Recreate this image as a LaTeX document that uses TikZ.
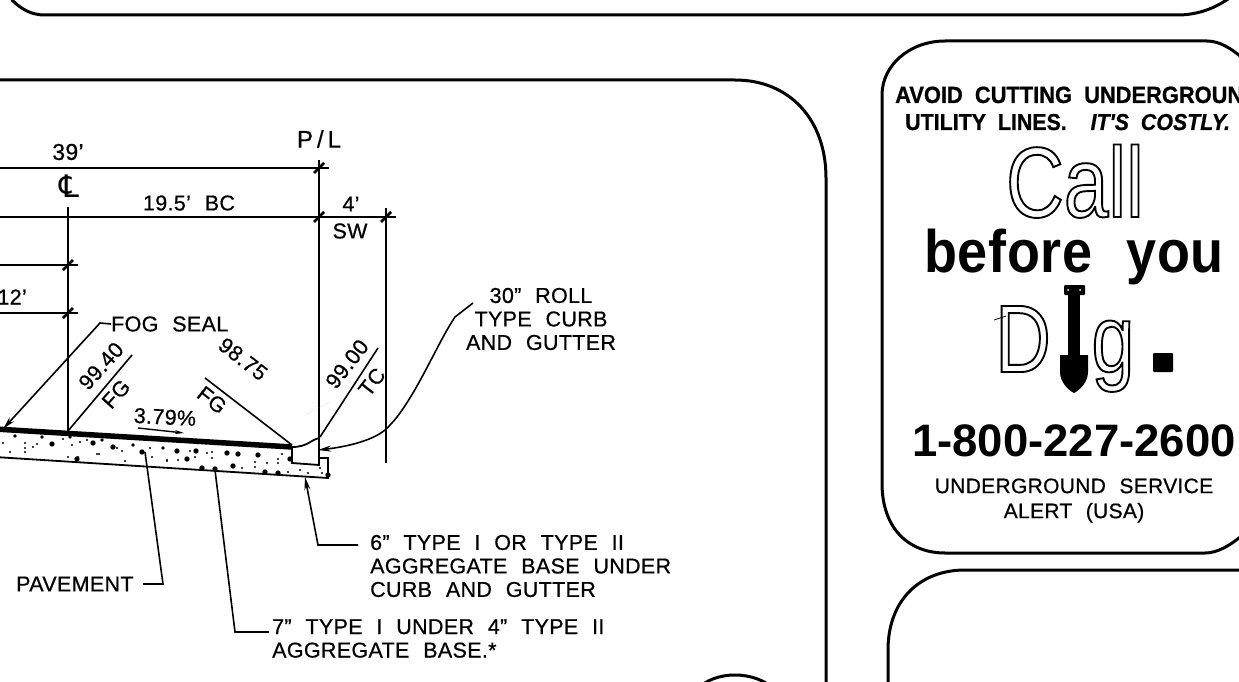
\documentclass[tikz,border=0pt]{standalone}
\usepackage{fontspec}
\setmainfont[LetterSpace=1.5,WordSpace=2.2,FakeBold=0.6]{Liberation Sans}
\newfontfamily\SymFont{DejaVu Sans}
\newfontfamily\PlainFont[WordSpace=2]{Liberation Sans}
\newfontfamily\AvoidFont[WordSpace=2,FakeStretch=0.93,FakeBold=0.8]{Liberation Sans}
\newfontfamily\CallFont[FakeStretch=0.8]{Liberation Sans}
\newfontfamily\BeforeFont[WordSpace=2.2,LetterSpace=1,FakeStretch=0.9]{Liberation Sans}
\usetikzlibrary{arrows.meta, calc, positioning}
\newcommand{\OutlineText}[1]{\special{pdf:code q 1 Tr 1.9 w}#1\special{pdf:code Q}}
\tikzstyle{label} = [inner sep=0pt, font=\fontsize{21.5}{23.5}\selectfont]
\tikzstyle{note} = [label, align=left, anchor=west]
\tikzstyle{frame} = [line width=3pt, line cap=round]
\tikzstyle{dimline} = [line width=1.5pt]
\tikzstyle{ticks} = [line width=2.5pt]
\tikzstyle{leader} = [line width=1.6pt]
\tikzstyle{arrow} = [line width=1.6pt,-{Stealth[length=13pt,width=6pt]}]
\tikzstyle{big} = [inner sep=0pt, anchor=base]

\begin{document}
\begin{tikzpicture}[x=1pt, y=-1pt]
	\useasboundingbox (0,0) rectangle (1239,682);
	\clip (0,0) rectangle (1239,682);
	% frames
	\draw[frame] (12,0) .. controls (22,10) and (32,15) .. (45,15) -- (1177,15) .. controls (1195,15) and (1212,10) .. (1228,-1);
	\draw[frame] (-5,80) -- (735,80) .. controls (790,80) and (826,120) .. (826,178) -- (826,690);
	\draw[frame] (697,690) .. controls (705,680) and (720,675) .. (735,675) .. controls (750,675) and (765,680) .. (775,690);
	\draw[frame] (1245,60) .. controls (1232,49) and (1220,41) .. (1207,41) -- (945,41) .. controls (910,41) and (882,65) .. (882,95) -- (882,483) .. controls (882,530) and (910,553) .. (945,553) -- (1205,553) .. controls (1217,553) and (1230,546) .. (1245,533);
	\draw[frame] (888,690) -- (888,650) .. controls (888,600) and (920,570) .. (965,570) -- (1245,570);

	% dimension lines
	\coordinate (PLTop) at (319,168);
	\coordinate (PLBase) at (319,217);
	\coordinate (SWEnd) at (386,217);
	\coordinate (LaneTop) at (68,265);
	\coordinate (LaneBase) at (68,313);
	\coordinate (CrownPt) at (68,431);
	\draw[dimline] (-5,168) -- (PLTop);
	\draw[dimline] (-5,217) -- (395,217);
	\draw[dimline] (-5,265) -- (78,265);
	\draw[dimline] (-5,313) -- (78,313);
	\draw[dimline] (319,160) -- (319,450);
	\draw[dimline] (386,208) -- (386,463);
	\draw[dimline] (68,207) -- (CrownPt);
	\draw[ticks] (LaneTop) -- (LaneBase);
	\draw[ticks] (PLTop) -- (PLBase);
	\foreach \p in {PLTop, PLBase, SWEnd, LaneTop, LaneBase} {
		\draw[ticks] (\p) ++(-5,5) -- ++(10,-10);
		\draw[leader] (\p) ++(-3,0) -- ++(13,0);
	}

	% labels above the section
	\node (ThirtyNine) [label, font=\fontsize{23}{23}\selectfont] at (68,152) {39'};
	\node (CenterMark) [label, font=\SymFont\fontsize{31}{31}\selectfont] at (69,186) {℄};
	\node (BackCurb) [label] at (189,203) {19.5' BC};
	\node (WalkWidth) [label] at (351,204) {4'};
	\node (WalkMark) [label] at (350,231) {SW};
	\node (LaneWidth) [label, anchor=east] at (27,297) {12'};
	\node (PropLine) [label, font=\fontsize{24}{24}\selectfont] at (319,139) {P\,/\,L};
	\node (FogSeal) [note] at (111,324) {FOG SEAL};
	\node (RollCurb) [label, align=center] at (541,319) {30" ROLL\\TYPE CURB\\AND GUTTER};
	\coordinate (FogBend) at (100,323);
	\coordinate (FogEnd) at (3,429);
	\draw[arrow] (FogSeal.west) -- (FogBend) -- (FogEnd);

	% grades
	\coordinate (GradeA) at (132,355);
	\coordinate (GradeB) at (205,378);
	\coordinate (GradeC) at (292,445);
	\coordinate (GradeD) at (320,437);
	\coordinate (GradeE) at (378,348);
	\draw[leader] (CrownPt) -- (GradeA);
	\draw[leader] (GradeB) -- (GradeC);
	\draw[leader] (GradeD) -- (GradeE);
	\node (GradeOne) [label, rotate=48] at (101,366) {99.40};
	\node (GradeOneFG) [label, rotate=48] at (116,394) {FG};
	\node (GradeTwo) [label, rotate=-38] at (243,359) {98.75};
	\node (GradeTwoFG) [label, rotate=-38] at (212,400) {FG};
	\node (GradeThree) [label, rotate=52] at (347,364) {99.00};
	\node (GradeThreeTC) [label, rotate=52] at (372,382) {TC};
	\node (Slope) [label, rotate=-3] at (165,417) {3.79\%};
	\coordinate (SlopeStart) at (138,428);
	\coordinate (SlopeEnd) at (184,433);
	\draw[line width=1.4pt,-{Stealth[length=9pt,width=4pt]}] (SlopeStart) -- (SlopeEnd);
	\draw[gray!50, densely dotted] (305,415) -- (330,402);

	% pavement, base and curb
	\draw[line width=5.5pt] (-5,429) -- (292,447);
	\draw[line width=1.8pt] (-5,457) -- (328,478) -- (328,458) -- (319,458);
	\draw[line width=1.8pt] (292,447) -- (292,463) -- (319,465) -- (319,438) .. controls (312,439) and (308,447) .. (292,447);
	\foreach \x/\y in {52/444,93/443,113/447,142/452,77/459,177/451,196/451,187/459,227/453,238/454,233/466,258/455,265/472,278/473,215/469,290/459,328/475,202/468}
		\fill (\x,\y) circle (2.7pt);
	\foreach \x/\y in {15/436,42/437,70/437,102/440,133/445,163/448}
		\fill (\x,\y) circle (1.9pt);
	\foreach \x/\y in {3/443,10/452,25/443,25/448,25/452,33/447,37/444,63/439,72/445,80/442,87/440,68/457,78/457,97/454,99/454,122/451,125/461,150/448,152/457,167/461,117/448,167/460,190/451,195/457,178/460,212/452,212/458,207/453,255/462,255/467,267/463,278/459,278/463,282/454,242/468,288/472,300/470,320/468,322/473,328/460,328/465,308/473}
		\fill (\x,\y) circle (1.1pt);

	% leaders
	\node (PavementLabel) [note] at (16,584) {PAVEMENT};
	\node (BaseSeven) [note] at (272,638.5) {7" TYPE I UNDER 4" TYPE II\\AGGREGATE BASE.*};
	\node (BaseSix) [note] at (370,566) {6" TYPE I OR TYPE II\\AGGREGATE BASE UNDER\\CURB AND GUTTER};
	\coordinate (PavementBend) at (163,584);
	\coordinate (PavementEnd) at (145,452);
	\coordinate (SevenBend) at (235,632);
	\coordinate (SevenEnd) at (215,470);
	\coordinate (SixStart) at (358,545);
	\coordinate (SixBend) at (318,545);
	\coordinate (SixEnd) at (305,477);
	\coordinate (SevenStart) at (269,632);
	\coordinate (PavementStart) at (143,584);
	\draw[leader] (PavementStart) -- (PavementBend) -- (PavementEnd);
	\draw[leader] (SevenStart) -- (SevenBend) -- (SevenEnd);
	\draw[arrow] (SixStart) -- (SixBend) -- (SixEnd);
	\coordinate (RollStart) at (473,303);
	\coordinate (RollEnd) at (318,450);
	\draw[arrow] (RollStart) -- (455,317) .. controls (445,332) and (438,347) .. (432,358) .. controls (418,385) and (402,415) .. (385,430) .. controls (372,441) and (345,447) .. (RollEnd);

	% call before you dig
	\node (AvoidLine) [inner sep=0pt, anchor=base west, font=\AvoidFont\bfseries\fontsize{23.5}{23.5}\selectfont] at (895,103) {AVOID CUTTING UNDERGROUND};
	\node (UtilityLine) [inner sep=0pt, anchor=base west, font=\AvoidFont\bfseries\fontsize{23}{23}\selectfont] at (905,130) {UTILITY LINES.~~{\itshape IT'S COSTLY.}};
	\node (CallWord) [big, font=\CallFont\fontsize{100}{100}\selectfont] at (1075,217) {\OutlineText{Call}};
	\node (BeforeWord) [big, font=\BeforeFont\bfseries\fontsize{60}{60}\selectfont] at (1074,272) {before you};
	\node (DigD) [big, font=\CallFont\fontsize{96}{96}\selectfont] at (1023,372) {\OutlineText{D}};
	\node (DigG) [big, font=\CallFont\fontsize{96}{96}\selectfont] at (1113,372) {\OutlineText{g}};
	\fill[rounded corners=1pt] (1153,353) rectangle (1173,372);
	\draw[line width=0.8pt] (994,320) -- (1006,316);
	% shovel
	\fill[rounded corners=1pt] (1064,285) rectangle (1085,295);
	\fill (1068,295) rectangle (1080,356);
	\fill (1060,355) -- (1088,355) -- (1088,372) .. controls (1088,382) and (1080,390) .. (1074,393) .. controls (1068,390) and (1060,382) .. (1060,372) -- cycle;
	\fill[white] (1068,290) circle (1pt) (1080,290) circle (1pt);
	\node (PhoneNumber) [big, font=\PlainFont\bfseries\fontsize{45.5}{45.5}\selectfont] at (1074,456) {1-800-227-2600};
	\node (ServiceAlert) [label, align=center, font=\fontsize{21}{25}\selectfont] at (1074,500.5) {UNDERGROUND SERVICE\\ALERT (USA)};
\end{tikzpicture}
\end{document}
